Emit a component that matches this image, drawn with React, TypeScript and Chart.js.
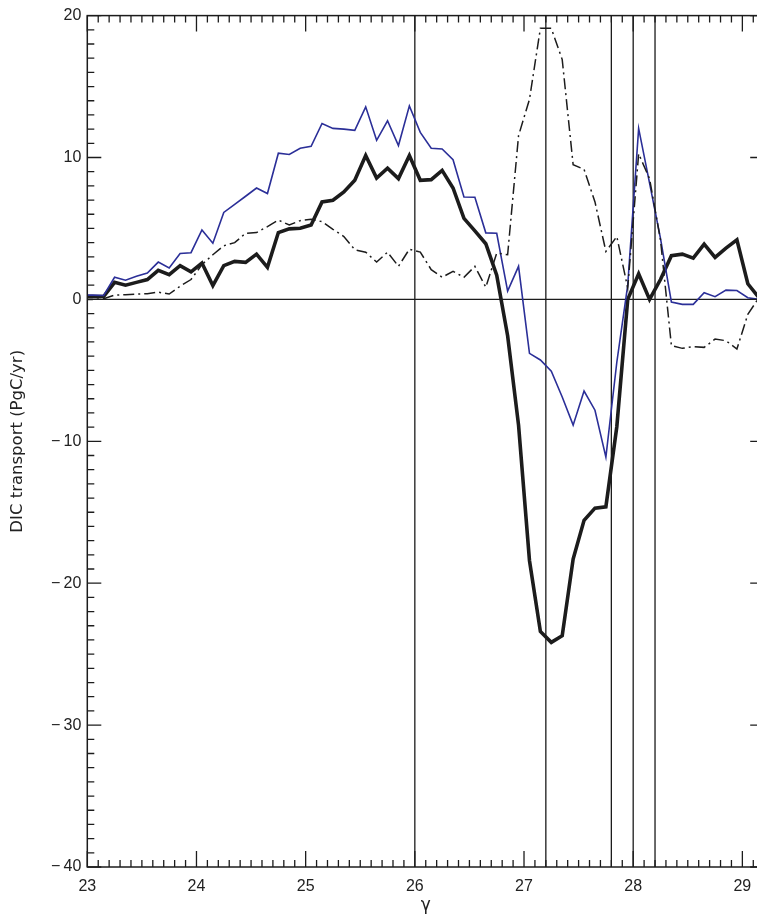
import { useEffect, useRef } from "react";
import { Chart, registerables } from "chart.js";

Chart.register(...registerables);

// Neutral-density bin centres (gamma)
const gammaBins = [
  22.95, 23.05, 23.15, 23.25, 23.35, 23.45, 23.55, 23.65, 23.75, 23.85, 23.95,
  24.05, 24.15, 24.25, 24.35, 24.45, 24.55, 24.65, 24.75, 24.85, 24.95,
  25.05, 25.15, 25.25, 25.35, 25.45, 25.55, 25.65, 25.75, 25.85, 25.95,
  26.05, 26.15, 26.25, 26.35, 26.45, 26.55, 26.65, 26.75, 26.85, 26.95,
  27.05, 27.15, 27.25, 27.35, 27.45, 27.55, 27.65, 27.75, 27.85, 27.95,
  28.05, 28.15, 28.25, 28.35, 28.45, 28.55, 28.65, 28.75, 28.85, 28.95,
  29.05, 29.15,
];

// Total DIC transport (thick black)
const totalTransport = [
  0.2, 0.2, 0.2, 1.2, 1.0, 1.2, 1.4, 2.05, 1.75, 2.38, 1.94,
  2.56, 0.98, 2.38, 2.68, 2.61, 3.19, 2.26, 4.71, 4.97, 5.01,
  5.24, 6.87, 6.99, 7.57, 8.39, 10.14, 8.55, 9.25, 8.51, 10.14,
  8.39, 8.44, 9.09, 7.85, 5.71, 4.83, 3.92, 1.7, -2.56, -8.86,
  -18.4, -23.4, -24.17, -23.7, -18.3, -15.57, -14.71, -14.62, -8.97, 0.0,
  1.8, 0.0, 1.4, 3.08, 3.19, 2.91, 3.89, 2.96, 3.61, 4.2,
  1.1, 0.15,
];

// Thin blue component
const blueTransport = [
  0.3, 0.3, 0.28, 1.56, 1.35, 1.63, 1.86, 2.63, 2.21, 3.24, 3.29,
  4.9, 3.96, 6.13, 6.69, 7.27, 7.85, 7.46, 10.3, 10.21, 10.65,
  10.79, 12.4, 12.05, 12.0, 11.91, 13.57, 11.21, 12.59, 10.84, 13.64,
  11.77, 10.65, 10.6, 9.84, 7.22, 7.2, 4.69, 4.66, 0.58, 2.33,
  -3.8, -4.27, -5.06, -6.88, -8.86, -6.46, -7.81, -11.12, -4.43, 1.0,
  12.05, 8.2, 4.3, -0.19, -0.35, -0.35, 0.47, 0.19, 0.65, 0.63,
  0.12, 0.0,
];

// Dash-dot component
const dashDotTransport = [
  0.0, 0.0, 0.05, 0.3, 0.33, 0.38, 0.4, 0.51, 0.38, 0.93, 1.4,
  2.45, 3.15, 3.78, 4.0, 4.66, 4.71, 5.13, 5.59, 5.24, 5.55,
  5.64, 5.48, 4.94, 4.43, 3.5, 3.33, 2.63, 3.33, 2.33, 3.54,
  3.33, 2.1, 1.56, 1.98, 1.56, 2.33, 0.86, 3.26, 3.15, 11.54,
  14.1, 19.1, 19.1, 16.9, 9.49, 9.16, 6.87, 3.38, 4.43, 0.8,
  10.26, 8.5, 4.2, -3.26, -3.45, -3.33, -3.38, -2.8, -2.91, -3.5,
  -1.05, 0.1,
];

const xTickValues = [23, 24, 25, 26, 27, 28, 29];
const xTickLabels = ["23", "24", "25", "26", "27", "28", "29"];
const yTickValues = [20, 10, 0, -10, -20, -30, -40];
const yTickLabels = [
  "20", "10", "0",
  "\u2212\u200910", "\u2212\u200920", "\u2212\u200930", "\u2212\u200940",
];

// Vertical reference densities
const markerLines = [26.0, 27.2, 27.8, 28.0, 28.2];

const INK = "#1c1c1c";
const BLUE = "#2b2f98";
const FONT = "'Liberation Sans', Arial, sans-serif";

const frameAndTicks = {
  id: "frameAndTicks",
  beforeDatasetsDraw(chart: any) {
    const { ctx, chartArea: a, scales } = chart;
    const x = scales.x;
    const y = scales.y;
    ctx.save();
    ctx.strokeStyle = INK;
    ctx.lineWidth = 1.3;
    ctx.beginPath();
    const y0 = y.getPixelForValue(0);
    ctx.moveTo(a.left, y0);
    ctx.lineTo(a.right, y0);
    for (const g of markerLines) {
      const px = x.getPixelForValue(g);
      ctx.moveTo(px, a.top);
      ctx.lineTo(px, a.bottom);
    }
    ctx.stroke();
    ctx.restore();
  },
  afterDatasetsDraw(chart: any) {
    const { ctx, chartArea: a, scales } = chart;
    const x = scales.x;
    const y = scales.y;
    ctx.save();
    ctx.strokeStyle = INK;
    ctx.lineWidth = 1.5;
    ctx.strokeRect(a.left, a.top, a.right - a.left, a.bottom - a.top);
    ctx.lineWidth = 1.3;
    ctx.beginPath();
    // x ticks every 0.1, longer on whole numbers, on bottom and top
    for (let i = 230; i <= 292; i++) {
      const px = x.getPixelForValue(i / 10);
      const len = i % 10 === 0 ? 16 : 7;
      ctx.moveTo(px, a.bottom);
      ctx.lineTo(px, a.bottom - len);
      ctx.moveTo(px, a.top);
      ctx.lineTo(px, a.top + len);
    }
    // y ticks every 1, longer every 10, on left and right
    for (let v = -40; v <= 20; v++) {
      const py = y.getPixelForValue(v);
      const len = v % 10 === 0 ? 14 : 7;
      ctx.moveTo(a.left, py);
      ctx.lineTo(a.left + len, py);
      ctx.moveTo(a.right, py);
      ctx.lineTo(a.right - len, py);
    }
    ctx.stroke();
    ctx.restore();
  },
};

export default function App() {
  const canvasRef = useRef<HTMLCanvasElement | null>(null);

  useEffect(() => {
    if (!canvasRef.current) return;
    const pts = (vals: number[]) => gammaBins.map((g, i) => ({ x: g, y: vals[i] }));
    const chart = new Chart(canvasRef.current, {
      type: "line",
      data: {
        datasets: [
          {
            data: pts(dashDotTransport),
            borderColor: INK,
            borderWidth: 1.5,
            borderDash: [11, 4, 2, 4],
            pointRadius: 0,
            tension: 0,
          },
          {
            data: pts(blueTransport),
            borderColor: BLUE,
            borderWidth: 1.6,
            pointRadius: 0,
            tension: 0,
          },
          {
            data: pts(totalTransport),
            borderColor: INK,
            borderWidth: 3.6,
            pointRadius: 0,
            tension: 0,
          },
        ],
      },
      options: {
        responsive: false,
        animation: false,
        layout: { padding: { top: 9, right: 0.8, left: 0, bottom: 0 } },
        plugins: { legend: { display: false }, tooltip: { enabled: false } },
        scales: {
          x: {
            type: "linear",
            min: 23,
            max: 29.2,
            grid: { display: false, drawTicks: false },
            border: { display: false },
            afterBuildTicks: (s: any) => {
              s.ticks = xTickValues.map((v) => ({ value: v }));
            },
            ticks: {
              autoSkip: false,
              maxRotation: 0,
              padding: 10,
              color: "#222",
              font: { family: FONT, size: 16 },
              callback: (v: any) => xTickLabels[xTickValues.indexOf(Number(v))] ?? "",
            },
            title: {
              display: true,
              text: "\u03b3",
              color: "#222",
              font: { family: "'DejaVu Sans', sans-serif", size: 17 },
              padding: { top: 0, bottom: 2 },
            },
            afterFit: (s: any) => {
              s.height = 51;
            },
          },
          y: {
            type: "linear",
            min: -40,
            max: 20,
            grid: { display: false, drawTicks: false },
            border: { display: false },
            afterBuildTicks: (s: any) => {
              s.ticks = yTickValues.map((v) => ({ value: v }));
            },
            ticks: {
              autoSkip: false,
              padding: 6,
              color: "#222",
              font: { family: FONT, size: 16 },
              callback: (v: any) => yTickLabels[yTickValues.indexOf(Number(v))] ?? "",
            },
            title: {
              display: true,
              text: "DIC transport (PgC/yr)",
              color: "#222",
              font: { family: "'DejaVu Sans', sans-serif", size: 16.5 },
              padding: { top: 8, bottom: 0 },
            },
            afterFit: (s: any) => {
              s.width = 87.3;
            },
          },
        },
      },
      plugins: [frameAndTicks],
    });
    return () => chart.destroy();
  }, []);

  return (
    <div
      style={{
        position: "fixed",
        left: 0,
        top: 0,
        width: 757,
        height: 918,
        overflow: "hidden",
        background: "#fff",
      }}
    >
      <canvas ref={canvasRef} width={765} height={918} style={{ display: "block" }} />
    </div>
  );
}
